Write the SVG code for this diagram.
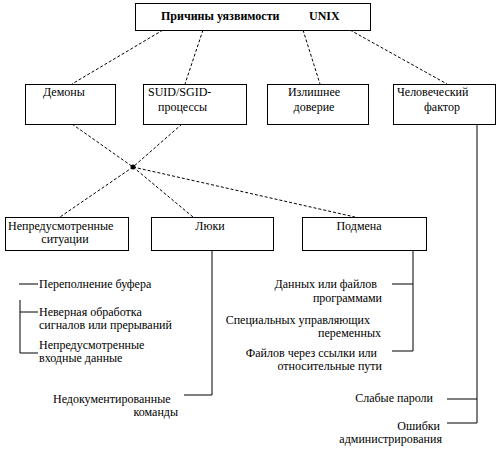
<svg xmlns="http://www.w3.org/2000/svg" width="498" height="449" viewBox="0 0 498 449">
<style>
  rect.box { fill: #fff; stroke: #000; stroke-width: 1; }
  text { font-family: 'Liberation Serif', 'Noto Serif', 'DejaVu Serif', 'FreeSerif', 'Tinos', 'Times New Roman', serif; font-size: 12px; fill: #000; }
  .dash { stroke: #000; stroke-width: 1; stroke-dasharray: 3,2; fill: none; }
  .solid { stroke: #000; stroke-width: 1; fill: none; }
  .mid { text-anchor: middle; }
  .end { text-anchor: end; }
</style>
<rect width="498" height="449" fill="#fff"/>
<g id="connectors">
  <line class="dash" x1="163" y1="30" x2="72" y2="84"/>
  <line class="dash" x1="203" y1="30" x2="185" y2="84"/>
  <line class="dash" x1="303" y1="30" x2="320" y2="84"/>
  <line class="dash" x1="350" y1="30" x2="447" y2="84"/>
  <line class="dash" x1="72" y1="124" x2="133" y2="167"/>
  <line class="dash" x1="182" y1="124" x2="133" y2="167"/>
  <line class="dash" x1="133" y1="167" x2="60" y2="217"/>
  <line class="dash" x1="133" y1="167" x2="193" y2="217"/>
  <line class="dash" x1="133" y1="167" x2="355" y2="217"/>
  <circle cx="133" cy="167" r="2.5" fill="#000"/>
  <polyline class="solid" points="212,250 212,395 184,395"/>
  <polyline class="solid" points="392,284 413,284 413,351 392,351"/>
  <line class="solid" x1="413" y1="250" x2="413" y2="284"/>
  <polyline class="solid" points="477,124 477,423 447,423"/>
  <line class="solid" x1="447" y1="399" x2="477" y2="399"/>
  <line class="solid" x1="19" y1="284" x2="38" y2="284"/>
  <polyline class="solid" points="20,300 20,353 38,353"/>
  <line class="solid" x1="20" y1="312" x2="38" y2="312"/>
</g>
<g id="root">
  <rect class="box" x="135.5" y="3.5" width="235" height="27"/>
  <text x="161" y="20" font-weight="bold">Причины уязвимости</text>
  <text x="309" y="20" font-weight="bold">UNIX</text>
</g>
<g id="daemons">
  <rect class="box" x="25.5" y="84.5" width="90" height="40"/>
  <text x="43" y="96">Демоны</text>
</g>
<g id="suid">
  <rect class="box" x="143.5" y="84.5" width="103" height="40"/>
  <text x="148" y="96">SUID/SGID-</text>
  <text x="158" y="111">процессы</text>
</g>
<g id="trust">
  <rect class="box" x="267.5" y="84.5" width="101" height="40"/>
  <text x="314" y="96" class="mid">Излишнее</text>
  <text x="314" y="111" class="mid">доверие</text>
</g>
<g id="human">
  <rect class="box" x="393.5" y="84.5" width="102" height="40"/>
  <text x="397" y="96">Человеческий</text>
  <text x="442" y="111" class="mid">фактор</text>
</g>
<g id="unforeseen">
  <rect class="box" x="5.5" y="217.5" width="123" height="33"/>
  <text x="8" y="230">Непредусмотренные</text>
  <text x="65" y="243" class="mid">ситуации</text>
</g>
<g id="hatches">
  <rect class="box" x="151.5" y="217.5" width="122" height="33"/>
  <text x="210" y="230" class="mid">Люки</text>
</g>
<g id="spoofing">
  <rect class="box" x="302.5" y="217.5" width="124" height="33"/>
  <text x="359" y="230" class="mid">Подмена</text>
</g>
<g id="left-list">
  <text x="39" y="288">Переполнение буфера</text>
  <text x="39" y="316">Неверная обработка</text>
  <text x="39" y="329">сигналов или прерываний</text>
  <text x="39" y="349">Непредусмотренные</text>
  <text x="39" y="362">входные данные</text>
  <text x="53" y="403">Недокументированные</text>
  <text x="178" y="416" class="end">команды</text>
</g>
<g id="right-list">
  <text x="377" y="288" class="end">Данных или файлов</text>
  <text x="382" y="302" class="end">программами</text>
  <text x="370" y="324" class="end">Специальных управляющих</text>
  <text x="381" y="337" class="end">переменных</text>
  <text x="377" y="357" class="end">Файлов через ссылки или</text>
  <text x="382" y="370" class="end">относительные пути</text>
  <text x="433" y="402" class="end">Слабые пароли</text>
  <text x="440" y="430" class="end">Ошибки</text>
  <text x="442" y="443" class="end">администрирования</text>
</g>
</svg>
